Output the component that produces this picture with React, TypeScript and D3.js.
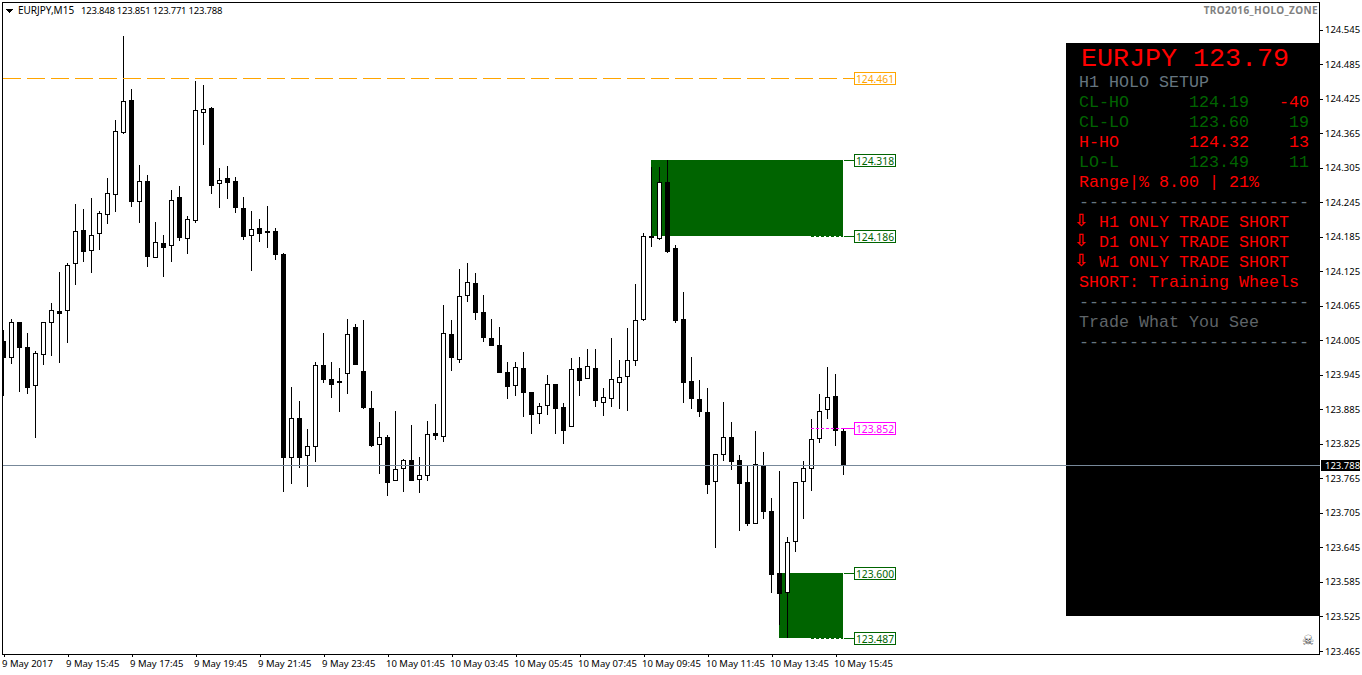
import { useEffect, useRef } from "react";
import { axisBottom, axisRight, scaleLinear, select } from "d3";

// chart data
const opens = [
  124.004, 123.974, 124.037, 123.993, 123.926, 123.979, 124.035, 124.056, 124.056, 124.138,
  124.197, 124.16, 124.19, 124.223, 124.257, 124.365, 124.423, 124.245, 124.282, 124.148,
  124.174, 124.169, 124.254, 124.181, 124.212, 124.4, 124.409, 124.277, 124.287, 124.282,
  124.235, 124.186, 124.2, 124.195, 124.195, 124.155, 123.801, 123.87, 123.804, 123.82,
  123.962, 123.938, 123.934, 123.946, 124.028, 123.952, 123.887, 123.823, 123.837, 123.76,
  123.781, 123.797, 123.762, 123.769, 123.844, 123.837, 124.016, 123.971, 124.082, 124.105,
  124.054, 124.009, 123.997, 123.95, 123.926, 123.957, 123.915, 123.877, 123.891, 123.929,
  123.889, 123.854, 123.957, 123.938, 123.957, 123.896, 123.903, 123.931, 123.941, 123.969,
  124.04, 124.186, 124.181, 124.28, 124.165, 124.042, 123.934, 123.903, 123.88, 123.759,
  123.806, 123.837, 123.797, 123.759, 123.686, 123.788, 123.708, 123.601, 123.566, 123.655,
  123.759, 123.781, 123.834, 123.884, 123.908, 123.848,
];
const highs = [
  124.023, 124.042, 124.037, 124.018, 123.986, 124.037, 124.07, 124.124, 124.139, 124.242,
  124.233, 124.252, 124.23, 124.287, 124.388, 124.534, 124.442, 124.31, 124.292, 124.211,
  124.188, 124.266, 124.273, 124.221, 124.456, 124.449, 124.41, 124.304, 124.308, 124.289,
  124.254, 124.23, 124.216, 124.238, 124.2, 124.157, 123.924, 123.9, 123.851, 123.967,
  124.018, 123.967, 123.957, 124.042, 124.033, 124.04, 123.917, 123.863, 123.84, 123.882,
  123.799, 123.858, 123.802, 123.865, 123.894, 124.066, 124.04, 124.129, 124.139, 124.122,
  124.084, 124.042, 124.028, 123.967, 123.967, 123.985, 123.915, 123.896, 123.945, 123.929,
  123.896, 123.974, 123.976, 123.99, 123.99, 123.922, 124.009, 123.971, 124.026, 124.103,
  124.191, 124.306, 124.306, 124.318, 124.171, 124.089, 123.976, 123.936, 123.922, 123.807,
  123.898, 123.863, 123.806, 123.787, 123.847, 123.811, 123.731, 123.778, 123.663, 123.759,
  123.795, 123.868, 123.912, 123.959, 123.946, 123.851,
];
const lows = [
  123.908, 123.964, 123.915, 123.912, 123.835, 123.962, 123.978, 123.966, 124.0, 124.101,
  124.141, 124.122, 124.162, 124.207, 124.228, 124.364, 124.237, 124.209, 124.132, 124.148,
  124.115, 124.141, 124.178, 124.155, 124.209, 124.344, 124.259, 124.235, 124.251, 124.226,
  124.179, 124.125, 124.176, 124.165, 124.145, 123.741, 123.755, 123.783, 123.75, 123.794,
  123.931, 123.905, 123.88, 123.912, 123.962, 123.886, 123.82, 123.773, 123.734, 123.76,
  123.741, 123.76, 123.74, 123.76, 123.832, 123.828, 123.952, 123.966, 124.072, 124.04,
  124.002, 123.995, 123.948, 123.903, 123.908, 123.872, 123.842, 123.86, 123.875, 123.842,
  123.825, 123.854, 123.908, 123.938, 123.889, 123.873, 123.889, 123.886, 123.882, 123.96,
  124.039, 124.167, 124.179, 124.157, 124.035, 123.896, 123.886, 123.872, 123.738, 123.644,
  123.795, 123.78, 123.674, 123.682, 123.686, 123.695, 123.566, 123.51, 123.488, 123.637,
  123.695, 123.743, 123.827, 123.868, 123.821, 123.771,
];
const closes = [
  123.974, 124.037, 123.992, 123.922, 123.983, 124.037, 124.058, 124.051, 124.136, 124.195,
  124.158, 124.188, 124.226, 124.261, 124.369, 124.421, 124.245, 124.282, 124.15, 124.176,
  124.165, 124.249, 124.183, 124.216, 124.405, 124.407, 124.273, 124.284, 124.278, 124.235,
  124.184, 124.198, 124.19, 124.191, 124.153, 123.801, 123.87, 123.801, 123.821, 123.962,
  123.936, 123.927, 123.931, 124.016, 123.962, 123.887, 123.821, 123.837, 123.757, 123.781,
  123.797, 123.76, 123.771, 123.842, 123.839, 124.018, 123.974, 124.082, 124.106, 124.052,
  124.009, 123.995, 123.948, 123.924, 123.959, 123.913, 123.875, 123.891, 123.929, 123.886,
  123.847, 123.955, 123.934, 123.96, 123.9, 123.906, 123.938, 123.941, 123.971, 124.04,
  124.186, 124.183, 124.28, 124.158, 124.039, 123.931, 123.903, 123.88, 123.754, 123.807,
  123.837, 123.794, 123.755, 123.686, 123.79, 123.707, 123.597, 123.564, 123.655, 123.759,
  123.783, 123.834, 123.882, 123.906, 123.847, 123.788,
];

const priceTicks = [
  124.545, 124.485, 124.425, 124.365, 124.305, 124.245, 124.185, 124.125, 124.065, 124.005,
  123.945, 123.885, 123.825, 123.765, 123.705, 123.645, 123.585, 123.525, 123.465,
];
const timeLabels = [
  "9 May 2017", "9 May 15:45", "9 May 17:45", "9 May 19:45", "9 May 21:45", "9 May 23:45",
  "10 May 01:45", "10 May 03:45", "10 May 05:45", "10 May 07:45", "10 May 09:45",
  "10 May 11:45", "10 May 13:45", "10 May 15:45",
];

// [first bar, top price, bottom price]
const zones = [
  [81, 124.318, 124.186],
  [97, 123.6, 123.487],
];
const lastPrice = 123.788;
const levelOrange = 124.461;
const levelPink = 123.852;

const RED = "#ff0000";
const GREEN = "#006400";
const ORANGE = "#ffa500";
const PINK = "#ff00ff";
const SLATE = "#66757f";
const DIM = "#5f6468";
const DASHES = "-----------------------";

// panel rows: [text, colour, baseline]
const panelLines: [string, string, number][] = [
  ["H1 HOLO SETUP", SLATE, 87],
  ["Range|% 8.00 | 21%", RED, 187],
  [DASHES, SLATE, 207],
  ["SHORT: Training Wheels", RED, 287],
  [DASHES, SLATE, 307],
  ["Trade What You See", DIM, 327],
  [DASHES, SLATE, 347],
];
const setupLabels = ["CL-HO", "CL-LO", "H-HO", "LO-L"];
const setupPrices = ["124.19", "123.60", "124.32", "123.49"];
const setupPips = ["-40", "19", "13", "11"];
const setupNameColors = [GREEN, GREEN, RED, GREEN];
const setupPriceColors = [GREEN, GREEN, RED, GREEN];
const setupPipColors = [RED, GREEN, RED, GREEN];
const trendLines = ["H1 ONLY TRADE SHORT", "D1 ONLY TRADE SHORT", "W1 ONLY TRADE SHORT"];

const WIDTH = 1362;
const HEIGHT = 675;
const UI_FONT = "'Noto Sans', sans-serif";
const MONO_FONT = "'Liberation Mono', monospace";

////
const App = () => {
  const ref = useRef<SVGSVGElement>(null);

  useEffect(() => {
    const svg = select(ref.current);
    svg.selectAll("*").remove();

    const x = scaleLinear().domain([0, 105]).range([3.5, 843.5]);
    const y = scaleLinear().domain([123.465, 124.545]).range([651, 29.5]);
    const ry = (p: number) => Math.round(y(p));
    const py = (p: number) => ry(p) + 0.5;
    const labelText = (t: any) => t.style("font", `9.5px ${UI_FONT}`);

    svg.append("defs").append("clipPath").attr("id", "plot")
      .append("rect").attr("x", 3).attr("y", 3).attr("width", 1316).attr("height", 651);

    const plot = svg.append("g").attr("clip-path", "url(#plot)");

    // holo zones go under the candles
    plot.selectAll("rect.zone").data(zones).enter().append("rect")
      .attr("class", "zone")
      .attr("x", (d) => x(d[0]) - 0.5)
      .attr("y", (d) => ry(d[1]))
      .attr("width", (d) => x(105) - x(d[0]))
      .attr("height", (d) => ry(d[2]) - ry(d[1]))
      .attr("fill", GREEN);

    // dotted bottom edge of each zone
    plot.selectAll("line.edge").data(zones).enter().append("line")
      .attr("class", "edge")
      .attr("x1", x(101) - 0.5).attr("x2", x(105) - 0.5)
      .attr("y1", (d) => py(d[2])).attr("y2", (d) => py(d[2]))
      .attr("stroke", GREEN).attr("stroke-dasharray", "3 2");

    // candles
    const bodyTop = (o: number, c: number) => ry(Math.max(o, c)) + 0.5;
    const bodyBottom = (o: number, c: number) =>
      Math.max(ry(Math.min(o, c)) - 0.5, bodyTop(o, c) + 1);
    const candles = plot.selectAll("g.candle").data(opens).enter().append("g").attr("class", "candle");
    candles.append("line")
      .attr("x1", (_, i) => x(i)).attr("x2", (_, i) => x(i))
      .attr("y1", (_, i) => ry(highs[i])).attr("y2", (_, i) => ry(lows[i]))
      .attr("stroke", "#000");
    candles.append("rect")
      .attr("x", (_, i) => x(i) - 2)
      .attr("width", 4)
      .attr("y", (d, i) => bodyTop(d, closes[i]))
      .attr("height", (d, i) => bodyBottom(d, closes[i]) - bodyTop(d, closes[i]))
      .attr("fill", (d, i) => (closes[i] >= d ? "#fff" : "#000"))
      .attr("stroke", "#000");

    // orange level
    plot.append("line")
      .attr("x1", 3).attr("x2", 854)
      .attr("y1", py(levelOrange)).attr("y2", py(levelOrange))
      .attr("stroke", ORANGE).attr("stroke-dasharray", "18 6");

    // pink level
    plot.append("line")
      .attr("x1", x(101) - 0.5).attr("x2", x(105))
      .attr("y1", py(levelPink)).attr("y2", py(levelPink))
      .attr("stroke", PINK).attr("stroke-dasharray", "3 2");

    // level tags on the right of the last bar
    const tags: [number, string][] = [
      [levelOrange, ORANGE],
      [124.318, GREEN],
      [124.186, GREEN],
      [levelPink, PINK],
      [123.6, GREEN],
      [123.487, GREEN],
    ];
    const tag = svg.selectAll("g.tag").data(tags).enter().append("g").attr("class", "tag");
    tag.filter((d) => d[0] !== levelOrange).append("line")
      .attr("x1", x(105) + 0.5).attr("x2", 854)
      .attr("y1", (d) => py(d[0])).attr("y2", (d) => py(d[0]))
      .attr("stroke", (d) => d[1]);
    tag.append("rect")
      .attr("x", 854.5).attr("width", 41)
      .attr("y", (d) => py(d[0]) - 6).attr("height", 12)
      .attr("fill", "#fff").attr("stroke", (d) => d[1]);
    tag.append("text")
      .attr("x", 875).attr("y", (d) => py(d[0]) + 4)
      .attr("text-anchor", "middle")
      .attr("fill", (d) => d[1])
      .style("font", `10.3px ${UI_FONT}`)
      .text((d) => d[0].toFixed(3));

    // info panel
    svg.append("rect")
      .attr("x", 1066).attr("y", 43).attr("width", 254).attr("height", 573)
      .attr("fill", "#000");
    const panel = svg.append("g").style("font-family", MONO_FONT);
    panel.append("text")
      .attr("x", 1081).attr("y", 66)
      .attr("fill", RED).style("font-size", "26.67px")
      .text("EURJPY 123.79");
    panel.selectAll("text.line").data(panelLines).enter().append("text")
      .attr("class", "line")
      .attr("x", 1079).attr("y", (d) => d[2])
      .attr("fill", (d) => d[1]).style("font-size", "16.67px")
      .text((d) => d[0]);
    setupLabels.forEach((name, i) => {
      const base = 107 + i * 20;
      panel.append("text").attr("x", 1079).attr("y", base)
        .attr("fill", setupNameColors[i]).style("font-size", "16.67px").text(name);
      panel.append("text").attr("x", 1189).attr("y", base)
        .attr("fill", setupPriceColors[i]).style("font-size", "16.67px").text(setupPrices[i]);
      panel.append("text").attr("x", 1309).attr("y", base).attr("text-anchor", "end")
        .attr("fill", setupPipColors[i]).style("font-size", "16.67px").text(setupPips[i]);
    });
    trendLines.forEach((line, i) => {
      const base = 227 + i * 20;
      svg.append("text").attr("x", 1074).attr("y", base - 1)
        .attr("fill", RED).style("font", "bold 17px 'DejaVu Sans'").text("\u21e9");
      panel.append("text").attr("x", 1099).attr("y", base)
        .attr("fill", RED).style("font-size", "16.67px").text(line);
    });

    // bid line, over the panel
    svg.append("line")
      .attr("x1", 3).attr("x2", 1320)
      .attr("y1", py(lastPrice)).attr("y2", py(lastPrice))
      .attr("stroke", "#778899");

    // frame
    svg.append("path")
      .attr("d", "M2.5,654.5V2.5H1319.5M2.5,654.5H1319.5M1319.5,2.5V43")
      .attr("fill", "none").attr("stroke", "#000");
    svg.append("line")
      .attr("x1", 1319.5).attr("x2", 1319.5).attr("y1", 616).attr("y2", 654.5)
      .attr("stroke", "#000");

    // price axis
    const yAxis = svg.append("g").attr("transform", "translate(1320,0)")
      .call(axisRight(y).tickValues(priceTicks).tickFormat((d: any) => d.toFixed(3)).tickSize(3).tickPadding(2));
    yAxis.select(".domain").remove();
    yAxis.selectAll("text").attr("fill", "#000").call(labelText);
    yAxis.selectAll("line").attr("stroke", "#000");

    // time axis, one tick every 8 bars
    const xAxis = svg.append("g").attr("transform", "translate(0,654)")
      .call(
        axisBottom(x)
          .tickValues(timeLabels.map((_, i) => i * 8))
          .tickFormat((_: any, i: number) => timeLabels[i])
          .tickSize(3)
      );
    xAxis.select(".domain").remove();
    xAxis.selectAll("line").attr("stroke", "#000");
    xAxis.selectAll("text")
      .attr("fill", "#000").attr("text-anchor", "start").attr("dx", -2).attr("y", 6)
      .call(labelText);

    // last price tag
    svg.append("rect")
      .attr("x", 1321).attr("y", py(lastPrice) - 5.5).attr("width", 39).attr("height", 11)
      .attr("fill", "#000");
    svg.append("text")
      .attr("x", 1325).attr("y", py(lastPrice) + 3.5)
      .attr("fill", "#fff").call(labelText)
      .text(lastPrice.toFixed(3));

    // header
    svg.append("path").attr("d", "M6,9H13.5L9.75,13Z").attr("fill", "#000");
    svg.append("text")
      .attr("x", 18).attr("y", 14).attr("fill", "#000")
      .style("font", `10px ${UI_FONT}`)
      .text("EURJPY,M15");
    svg.append("text")
      .attr("x", 81).attr("y", 14).attr("fill", "#000").call(labelText)
      .style("letter-spacing", "-0.22px")
      .text("123.848 123.851 123.771 123.788");
    svg.append("text")
      .attr("x", 1318).attr("y", 14).attr("text-anchor", "end").attr("fill", "#808080")
      .style("font", `bold 10px ${UI_FONT}`)
      .style("letter-spacing", "0.4px")
      .text("TRO2016_HOLO_ZONE");
    svg.append("text")
      .attr("x", 1308).attr("y", 645).attr("text-anchor", "middle").attr("fill", "#444")
      .style("font", "14px 'DejaVu Sans'")
      .text("\u2620");
  }, []);

  return (
    <svg
      ref={ref}
      width={WIDTH}
      height={HEIGHT}
      style={{ position: "absolute", left: 0, top: 0, background: "#fff", shapeRendering: "crispEdges" }}
    />
  );
};

export default App;
